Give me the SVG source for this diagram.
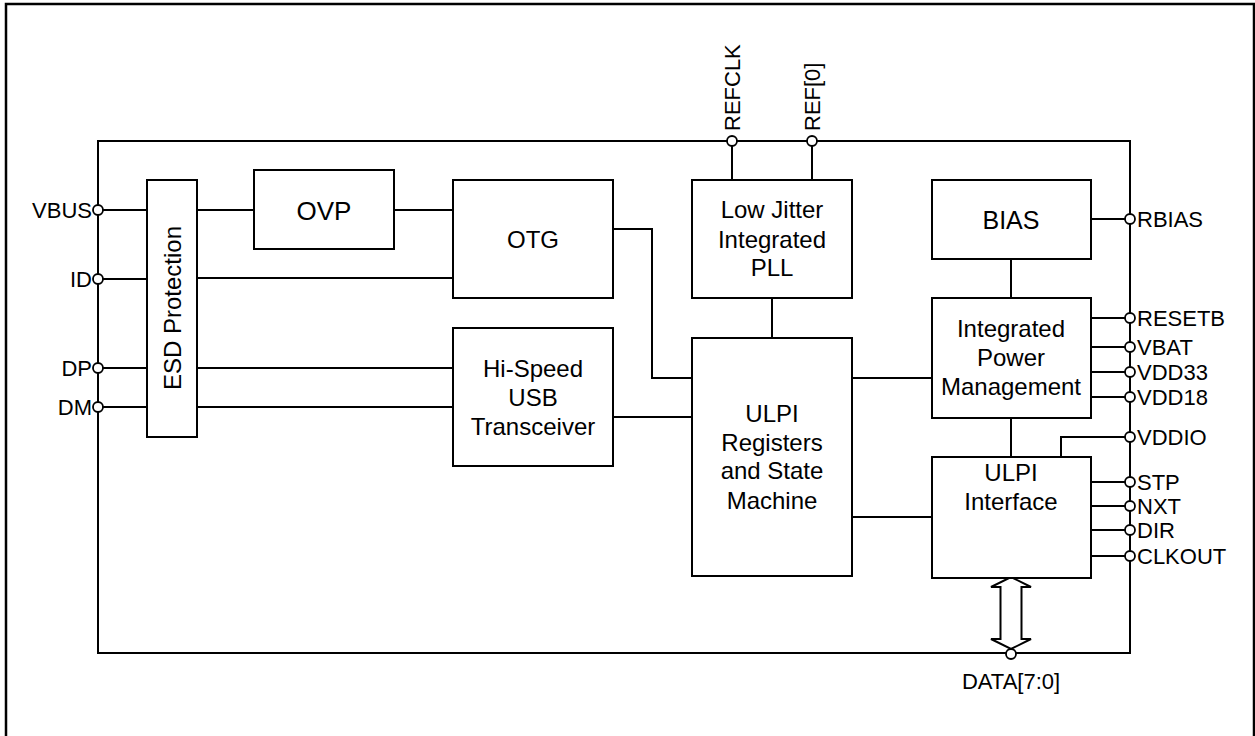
<svg xmlns="http://www.w3.org/2000/svg" width="1255" height="736" viewBox="0 0 1255 736">
<style>
.box{fill:#fff;stroke:#000;stroke-width:2}
.ln{fill:none;stroke:#000;stroke-width:2}
.pin{fill:#fff;stroke:#000;stroke-width:1.8}
.t{font-family:"Liberation Sans",Arial,sans-serif;font-size:24px;fill:#000;text-anchor:middle}
.pl{font-family:"Liberation Sans",Arial,sans-serif;font-size:22px;fill:#000}
.end{text-anchor:end}
</style>
<rect x="0" y="0" width="1255" height="736" fill="#fff"/>
<rect x="6" y="4" width="1248" height="800" fill="none" stroke="#000" stroke-width="2.5"/>
<rect id="chip" x="98" y="141" width="1032" height="512" fill="none" stroke="#000" stroke-width="2"/>
<g id="connectors">
<path class="ln" d="M103 210H147M103 279H147M103 368H147M103 407H147"/>
<path class="ln" d="M197 210H254M394 210H453M197 278H453M197 368H453M197 407H453"/>
<path class="ln" d="M613 229H652V378H692M613 417H692M772 298V338M852 378H932M852 517H932"/>
<path class="ln" d="M1011 259V298M1011 418V457"/>
<path class="ln" d="M1091 219H1125M1091 318H1125M1091 347H1125M1091 372H1125M1091 397H1125"/>
<path class="ln" d="M1061 457V437H1125M1091 482H1125M1091 506H1125M1091 530H1125M1091 556H1125"/>
<path class="ln" d="M732 146V180M812 146V180"/>
<polygon points="1011,577 1031,587 1021.5,587 1021.5,639 1031,639 1011,649 991,639 1000.5,639 1000.5,587 991,587" fill="#fff" stroke="#000" stroke-width="2" stroke-linejoin="miter"/>
</g>
<g id="pins">
<circle class="pin" cx="98" cy="210" r="5"/>
<circle class="pin" cx="98" cy="279" r="5"/>
<circle class="pin" cx="98" cy="368" r="5"/>
<circle class="pin" cx="98" cy="407" r="5"/>
<circle class="pin" cx="732" cy="141" r="5"/>
<circle class="pin" cx="812" cy="141" r="5"/>
<circle class="pin" cx="1130" cy="219" r="5"/>
<circle class="pin" cx="1130" cy="318" r="5"/>
<circle class="pin" cx="1130" cy="347" r="5"/>
<circle class="pin" cx="1130" cy="372" r="5"/>
<circle class="pin" cx="1130" cy="397" r="5"/>
<circle class="pin" cx="1130" cy="437" r="5"/>
<circle class="pin" cx="1130" cy="482" r="5"/>
<circle class="pin" cx="1130" cy="506" r="5"/>
<circle class="pin" cx="1130" cy="530" r="5"/>
<circle class="pin" cx="1130" cy="556" r="5"/>
<circle class="pin" cx="1011" cy="654" r="5"/>
<text class="pl end" x="92" y="218">VBUS</text>
<text class="pl end" x="92" y="287">ID</text>
<text class="pl end" x="92" y="376">DP</text>
<text class="pl end" x="92" y="415">DM</text>
<text class="pl" transform="translate(740,131) rotate(-90)">REFCLK</text>
<text class="pl" transform="translate(820,131) rotate(-90)">REF[0]</text>
<text class="pl" x="1137" y="227">RBIAS</text>
<text class="pl" x="1137" y="326">RESETB</text>
<text class="pl" x="1137" y="355">VBAT</text>
<text class="pl" x="1137" y="380">VDD33</text>
<text class="pl" x="1137" y="405">VDD18</text>
<text class="pl" x="1137" y="445">VDDIO</text>
<text class="pl" x="1137" y="490">STP</text>
<text class="pl" x="1137" y="514">NXT</text>
<text class="pl" x="1137" y="538">DIR</text>
<text class="pl" x="1137" y="564">CLKOUT</text>
<text class="pl" x="1011" y="689" text-anchor="middle">DATA[7:0]</text>
</g>
<g id="esd">
<rect class="box" x="147" y="180" width="50" height="257"/>
<text class="t" transform="translate(180.5,308) rotate(-90)">ESD Protection</text>
</g>
<g id="ovp">
<rect class="box" x="254" y="170" width="140" height="79"/>
<text class="t" x="324" y="219.5" style="font-size:26px">OVP</text>
</g>
<g id="otg">
<rect class="box" x="453" y="180" width="160" height="118"/>
<text class="t" x="533" y="247.5">OTG</text>
</g>
<g id="hs">
<rect class="box" x="453" y="328" width="160" height="138"/>
<text class="t" x="533" y="376.6">Hi-Speed</text>
<text class="t" x="533" y="405.6">USB</text>
<text class="t" x="533" y="434.6">Transceiver</text>
</g>
<g id="pll">
<rect class="box" x="692" y="180" width="160" height="118"/>
<text class="t" x="772" y="217.6">Low Jitter</text>
<text class="t" x="772" y="247.6">Integrated</text>
<text class="t" x="772" y="275.6">PLL</text>
</g>
<g id="ulpireg">
<rect class="box" x="692" y="338" width="160" height="238"/>
<text class="t" x="772" y="421.6">ULPI</text>
<text class="t" x="772" y="450.6">Registers</text>
<text class="t" x="772" y="479">and State</text>
<text class="t" x="772" y="508.6">Machine</text>
</g>
<g id="bias">
<rect class="box" x="932" y="180" width="159" height="79"/>
<text class="t" x="1011" y="229" style="font-size:25px">BIAS</text>
</g>
<g id="ipm">
<rect class="box" x="932" y="298" width="159" height="120"/>
<text class="t" x="1011" y="337">Integrated</text>
<text class="t" x="1011" y="366">Power</text>
<text class="t" x="1011" y="394.6">Management</text>
</g>
<g id="ulpiif">
<rect class="box" x="932" y="457" width="159" height="121"/>
<text class="t" x="1011" y="480.6">ULPI</text>
<text class="t" x="1011" y="509.6">Interface</text>
</g>
</svg>
